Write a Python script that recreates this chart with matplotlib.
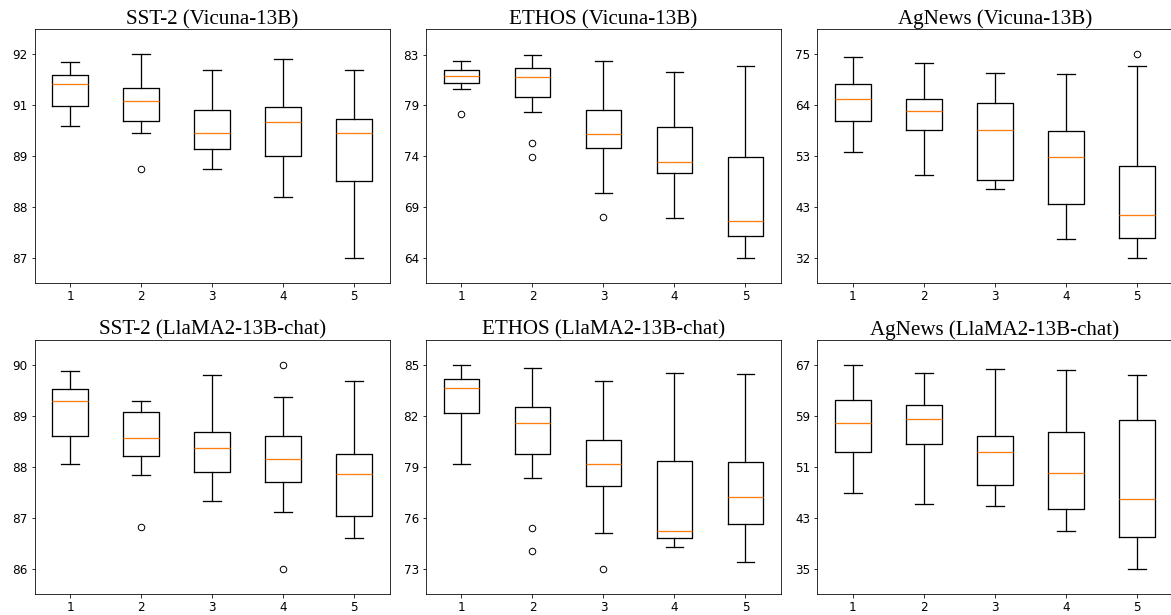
import matplotlib.pyplot as plt
import numpy as np

# Box statistics: (whisker low, q1, median, q3, whisker high)
sst2_vic_stats = [(90.23, 90.72, 91.27, 91.50, 91.80),
                  (90.06, 90.37, 90.86, 91.16, 92.00),
                  (89.19, 89.67, 90.06, 90.64, 91.62),
                  (88.49, 89.50, 90.33, 90.71, 91.89),
                  (87.00, 88.88, 90.06, 90.41, 91.62)]
sst2_vic_fliers = [[], [89.19], [], [], []]
sst2_vic_yticks = ["87", "88", "89", "91", "92"]

ethos_vic_stats = [(79.81, 80.30, 80.99, 81.57, 82.38),
                   (77.67, 79.06, 80.89, 81.79, 83.00),
                   (70.10, 74.32, 75.56, 77.79, 82.38),
                   (67.72, 71.93, 72.96, 76.21, 81.39),
                   (64.00, 66.04, 67.47, 73.42, 81.95)]
ethos_vic_fliers = [[77.45], [74.72, 73.39], [67.87], [], []]
ethos_vic_yticks = ["64", "69", "74", "79", "83"]

agnews_vic_stats = [(54.45, 60.90, 65.46, 68.76, 74.44),
                    (49.54, 58.94, 63.01, 65.60, 73.18),
                    (46.67, 48.42, 59.01, 64.62, 71.00),
                    (35.94, 43.51, 53.33, 58.73, 70.79),
                    (32.08, 36.22, 41.13, 51.44, 72.62)]
agnews_vic_fliers = [[], [], [], [], [75.0]]
agnews_vic_yticks = ["32", "43", "53", "64", "75"]

sst2_llama_stats = [(88.05, 88.61, 89.29, 89.53, 89.89),
                    (87.85, 88.21, 88.57, 89.08, 89.29),
                    (87.34, 87.90, 88.37, 88.69, 89.80),
                    (87.12, 87.70, 88.15, 88.60, 89.38),
                    (86.61, 87.04, 87.86, 88.25, 89.69)]
sst2_llama_fliers = [[], [86.83], [], [90.0, 86.0], []]
sst2_llama_yticks = ["86", "87", "88", "89", "90"]

ethos_llama_stats = [(79.16, 82.17, 83.66, 84.21, 85.00),
                     (78.37, 79.79, 81.60, 82.52, 84.82),
                     (75.14, 77.86, 79.16, 80.61, 84.06),
                     (74.32, 74.81, 75.22, 79.37, 84.55),
                     (73.39, 75.67, 77.21, 79.31, 84.47)]
ethos_llama_fliers = [[], [75.44, 74.06], [73.0], [], []]
ethos_llama_yticks = ["73", "76", "79", "82", "85"]

agnews_llama_stats = [(46.96, 53.36, 57.92, 61.49, 67.00),
                      (45.23, 54.57, 58.55, 60.81, 65.79),
                      (44.96, 48.22, 53.46, 55.93, 66.42),
                      (40.98, 44.49, 50.05, 56.45, 66.27),
                      (35.05, 40.03, 46.01, 58.40, 65.43)]
agnews_llama_fliers = [[], [], [], [], []]
agnews_llama_yticks = ["35", "43", "51", "59", "67"]

titles = ["SST-2 (Vicuna-13B)", "ETHOS (Vicuna-13B)", "AgNews (Vicuna-13B)",
          "SST-2 (LlaMA2-13B-chat)", "ETHOS (LlaMA2-13B-chat)", "AgNews (LlaMA2-13B-chat)"]
all_stats = [sst2_vic_stats, ethos_vic_stats, agnews_vic_stats,
             sst2_llama_stats, ethos_llama_stats, agnews_llama_stats]
all_fliers = [sst2_vic_fliers, ethos_vic_fliers, agnews_vic_fliers,
              sst2_llama_fliers, ethos_llama_fliers, agnews_llama_fliers]
all_yticks = [sst2_vic_yticks, ethos_vic_yticks, agnews_vic_yticks,
              sst2_llama_yticks, ethos_llama_yticks, agnews_llama_yticks]
# first/last tick and the y limits of each panel
tick_range = [(87, 92), (64, 83), (32, 75), (86, 90), (73, 85), (35, 67)]
ylims = [(86.38, 92.61), (61.64, 85.36), (26.68, 80.26),
         (85.51, 90.50), (71.54, 86.51), (31.11, 71.04)]


def to_bxp(stats, fliers):
    out = []
    for i, (lo, q1, med, q3, hi) in enumerate(stats):
        out.append(dict(label=str(i + 1), whislo=lo, q1=q1, med=med,
                        q3=q3, whishi=hi, fliers=fliers[i]))
    return out


for part in ["boxprops", "whiskerprops", "capprops", "medianprops"]:
    plt.rcParams["boxplot.%s.linewidth" % part] = 1.3
plt.rcParams["boxplot.flierprops.markersize"] = 6.5
plt.rcParams["xtick.labelsize"] = 12
plt.rcParams["ytick.labelsize"] = 12

fig, axes = plt.subplots(2, 3, figsize=(1171 / 72, 615 / 72), dpi=72)
fig.subplots_adjust(left=0.0296, right=1.0011, bottom=0.0346, top=0.9524,
                    wspace=0.1023, hspace=0.2217)

for k, ax in enumerate(axes.flat):
    ax.bxp(to_bxp(all_stats[k], all_fliers[k]))
    ax.set_xlim(0.5, 5.5)
    ax.set_ylim(*ylims[k])
    lo, hi = tick_range[k]
    ax.set_yticks(np.linspace(lo, hi, 5))
    ax.set_yticklabels(all_yticks[k])
    ax.set_title(titles[k], fontfamily="Liberation Serif", fontsize=21, pad=2)

fig.savefig("out.png", dpi=72)
